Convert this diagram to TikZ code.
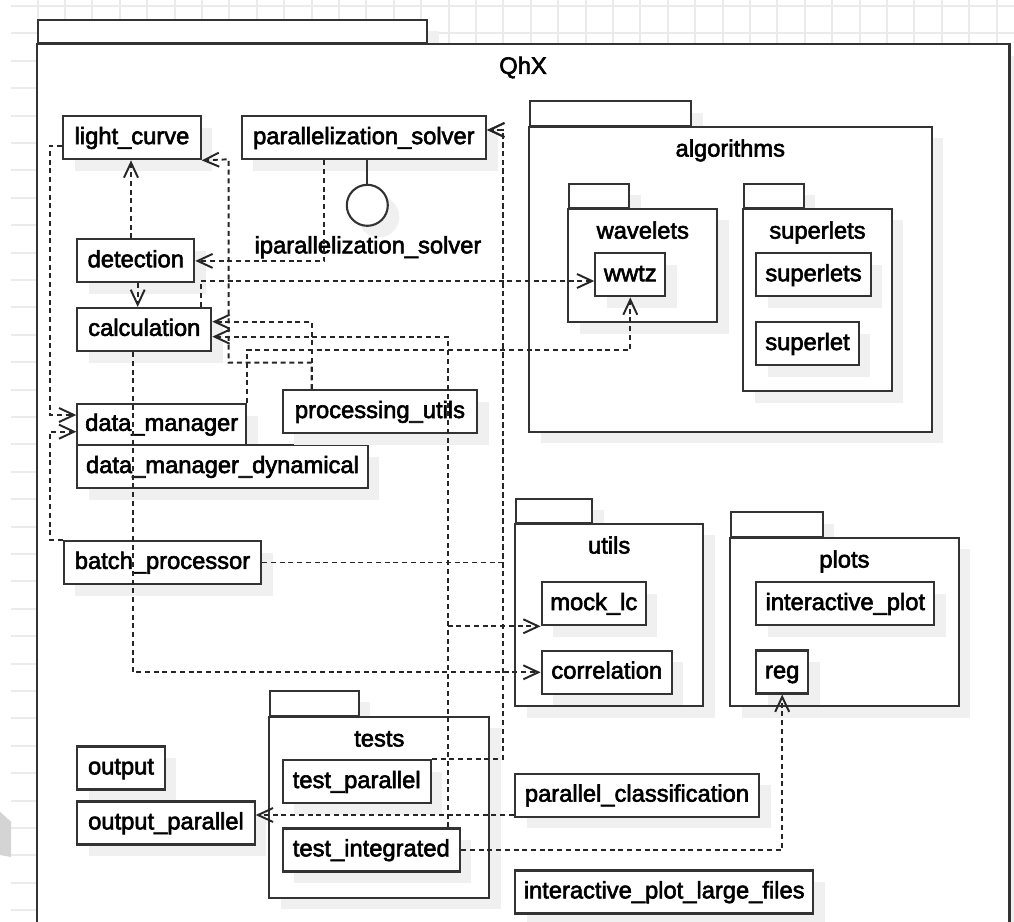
\documentclass[tikz,border=0pt]{standalone}
\usepackage{fontspec}
\setmainfont{Liberation Sans}[FakeBold=2.5]
\usepackage{tikz}
\usetikzlibrary{shapes,arrows.meta,shadows}
\tikzset{wd/.style={minimum width=#1*0.02cm}, ht/.style={minimum height=#1*0.02cm}}

\begin{document}
\begin{tikzpicture}[x=0.02cm,y=-0.02cm,font=\fontsize{13.5}{16}\selectfont]
\tikzstyle{boxshadow}=[drop shadow={shadow xshift=0.23cm,shadow yshift=-0.23cm,fill=black!6,opacity=1}]
\tikzstyle{cls}=[rectangle, draw=black!80, line width=1.2pt, fill=white, ht=43, inner sep=0pt, text height=0.72em, text depth=0pt, boxshadow]
\tikzstyle{pkg}=[rectangle, draw=black!80, line width=1.2pt, fill=white, inner sep=0pt, boxshadow]
\tikzstyle{pkgtab}=[pkg, anchor=south west]
\tikzstyle{pkgname}=[inner sep=0pt, text height=0.72em, text depth=0pt]
\tikzstyle{gridline}=[black!8, line width=0.04cm]
\tikzstyle{dep}=[draw=black!85, line width=1.1pt, dash pattern=on 0.1cm off 0.075cm, -{Straight Barb[length=0.3cm,width=0.28cm]}]
\useasboundingbox (0,0) rectangle (1014,921);
\clip (0,0) rectangle (1014,921);
\foreach \gy in {0,...,33} \draw[gridline] (11,{6+27.4*\gy}) -- (1014,{6+27.4*\gy});
\foreach \gx in {0,...,36} \draw[gridline] ({37.6+27.4*\gx},0) -- ({37.6+27.4*\gx},921);
\fill[black!17] (0,811.7) -- (11,821.7) -- (11,857) -- (0,855) -- cycle;

% QhX
\node[pkgtab, wd=389, ht=23, drop shadow={opacity=0}] (qhx_tab) at (37,44) {};
\node[pkg, wd=972.3, ht=916, line width=1.5pt, drop shadow={opacity=0}] (qhx) at (523.15,502) {};
\node[pkgname] (qhx_name) at (523,67.5) {QhX};

% algorithms
\node[pkgtab, wd=161.3, ht=24.4] (algo_tab) at (529,126.7) {};
\node[pkg, wd=402.7, ht=305] (algo) at (730.35,279.2) {};
\node[pkgname] (algo_name) at (730.3,150.2) {algorithms};
\node[pkgtab, wd=60, ht=23.7] (wave_tab) at (568.3,208.7) {};
\node[pkg, wd=149, ht=113.6] (wave) at (642.8,265.5) {};
\node[pkgname] (wave_name) at (642.8,232.3) {wavelets};
\node[cls, wd=70] (wwtz) at (630.3,274.9) {wwtz};
\node[pkgtab, wd=59.4, ht=23.7] (sup_tab) at (743.3,208.7) {};
\node[pkg, wd=148.4, ht=182.3] (sup) at (817.5,299.85) {};
\node[pkgname] (sup_name) at (817.5,232.3) {superlets};
\node[cls, wd=114.4] (sups) at (813.5,274.9) {superlets};
\node[cls, wd=102.4] (supl) at (807.5,343.7) {superlet};

% utils, plots, tests
\node[pkgtab, wd=76, ht=23.7] (utils_tab) at (515,523.7) {};
\node[pkg, wd=188.3, ht=182.3] (utils) at (609.15,614.85) {};
\node[pkgname] (utils_name) at (609.2,547.2) {utils};
\node[cls, wd=104.3] (mock) at (593.8,603.7) {mock\_lc};
\node[cls, wd=130.3] (corr) at (606.8,672.3) {correlation};
\node[pkgtab, wd=91.7, ht=24.4] (plots_tab) at (730,537.7) {};
\node[pkg, wd=228.7, ht=168.3] (plots) at (844.35,621.85) {};
\node[pkgname] (plots_name) at (844.4,561.2) {plots};
\node[cls, wd=178] (iplot) at (845.3,603.7) {interactive\_plot};
\node[cls, wd=51.7] (reg) at (782.2,672) {reg};
\node[pkgtab, wd=88.4, ht=25] (tests_tab) at (269.3,716.7) {};
\node[pkg, wd=220, ht=181] (tests) at (379.3,807.2) {};
\node[pkgname] (tests_name) at (379.3,740.2) {tests};
\node[cls, wd=148] (tpar) at (356.7,781.7) {test\_parallel};
\node[cls, wd=177.3] (tint) at (371.3,850) {test\_integrated};

% modules
\node[cls, wd=137.4] (lc) at (132,137.8) {light\_curve};
\node[cls, wd=244.3] (ps) at (363.9,137.8) {parallelization\_solver};
\node[cls, wd=117] (det) at (135.8,260.9) {detection};
\node[cls, wd=134] (calc) at (144.3,329.5) {calculation};
\node[cls, wd=168.7, ht=41] (dm) at (161.7,424.5) {data\_manager};
\node[cls, wd=290.4] (dmd) at (222.5,466.7) {data\_manager\_dynamical};
\node[cls, wd=194.6] (pu) at (380,411.7) {processing\_utils};
\node[cls, wd=197] (bp) at (162.5,562.5) {batch\_processor};
\node[cls, wd=87.4] (out) at (121,768) {output};
\node[cls, wd=177.4] (outpar) at (166,823) {output\_parallel};
\node[cls, wd=244] (pclass) at (637,795.3) {parallel\_classification};
\node[cls, wd=298.3] (iplf) at (664.2,892) {interactive\_plot\_large\_files};
\node[circle, draw=black!80, line width=1.2pt, fill=white, minimum size=41*0.02cm, boxshadow] (iface) at (367.3,205.3) {};
\node[pkgname] (iface_name) at (368,247) {iparallelization\_solver};
\draw[draw=black!80, line width=1.2pt] (ps.south -| iface.north) -- (iface.north);

\draw[dep] (det.north -| 131,0) -- (lc.south -| 131,0);
\draw[dep] (det.south -| 137.7,0) -- (calc.north -| 137.7,0);
\draw[dep] (ps.south -| 324.3,0) |- (det.east);
\draw[dep] (calc.north -| 201,0) |- (wwtz.west |- 0,281);
\draw[dep] (pu.north -| 311.7,0) |- (calc.east |- 0,321.7);
\draw[dep] (pu.north -| 311.7,0) -- (311.7,362.7) -| (228.7,159.3) -- (lc.south east);
\draw[dep] (tint.north -| 447.7,0) |- (calc.east |- 0,336.7);
\draw[dep] (tint.north -| 447.7,0) |- (mock.south west);
\draw[dep] (dm.north east) |- (wwtz.south |- 0,350) -- (wwtz.south);
\draw[dep] (tpar.north east) -| (502.7,130) -- (ps.east |- 0,130);
\draw[dep] (bp.east) -| (502.7,130) -- (ps.east |- 0,130);
\draw[dep] (lc.west |- 0,145.7) -| (50,415) -- (dm.west |- 0,415);
\draw[dep] (bp.north west) -| (50,431.7) -- (dm.west |- 0,431.7);
\draw[dep] (calc.south -| 132.7,0) |- (corr.west);
\draw[dep] (tint.east) -| (reg.south);
\draw[dep] (pclass.west |- 0,815) -- (outpar.east |- 0,815);
\end{tikzpicture}
\end{document}
